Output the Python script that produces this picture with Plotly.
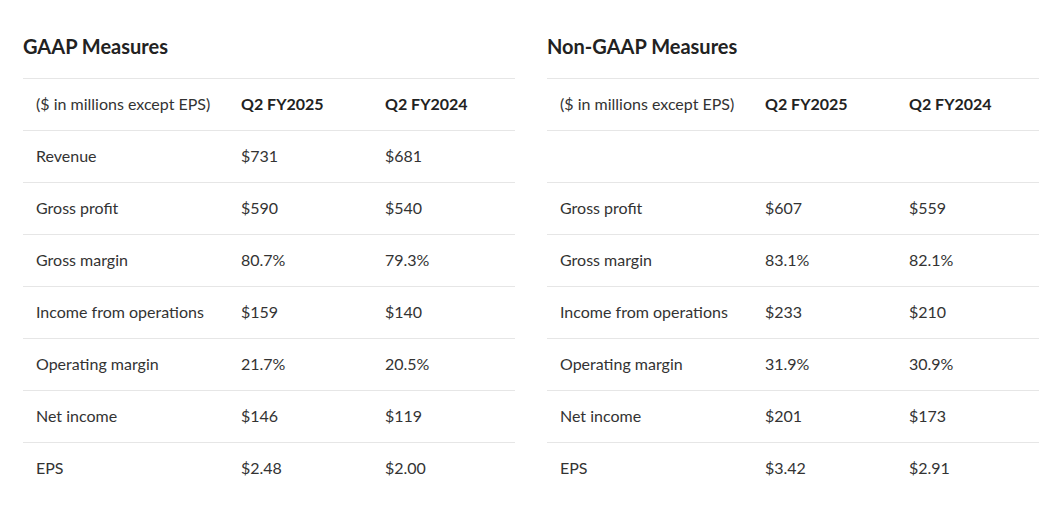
import plotly.graph_objects as go

# ---- data ----
metrics = ["Revenue", "Gross profit", "Gross margin", "Income from operations",
           "Operating margin", "Net income", "EPS"]
metric_kind = ["usd", "usd", "pct", "usd", "pct", "usd", "eps"]
columns = ["($ in millions except EPS)", "Q2 FY2025", "Q2 FY2024"]

gaap_fy2025 = [731, 590, 80.7, 159, 21.7, 146, 2.48]
gaap_fy2024 = [681, 540, 79.3, 140, 20.5, 119, 2.00]

nongaap_fy2025 = [None, 607, 83.1, 233, 31.9, 201, 3.42]
nongaap_fy2024 = [None, 559, 82.1, 210, 30.9, 173, 2.91]

titles = ["GAAP Measures", "Non-GAAP Measures"]


def fmt(v, kind):
    if v is None:
        return ""
    if kind == "pct":
        return f"{v:.1f}%"
    if kind == "eps":
        return f"${v:.2f}"
    return f"${v:,.0f}"


W, H = 1061, 520
OFF = 8  # page body margin in the viewer
FONT = "Lato"
TEXT = "#333333"
LINE = "#e6e6e6"
BODY = 16
TXT_SHIFT = 2.5  # px: text sits a touch below row centre

table_w = 492
col_x = [13, 218, 362]  # offsets of columns within a panel
panels = [
    (gaap_fy2025, gaap_fy2024, 23, "x", "y", "y3"),
    (nongaap_fy2025, nongaap_fy2024, 547, "x2", "y2", "y4"),
]


def px_x(p):
    return (p - OFF) / W


def px_y(p):
    return 1 - (p - OFF) / H


n = len(metrics) + 1
rows = list(range(1, n))

fig = go.Figure()
for i, (v25, v24, left, xa, ya, yt) in enumerate(panels):
    # invisible trace so the grid (row separators) axis is drawn
    fig.add_trace(go.Scatter(x=[0], y=[0], mode="none", xaxis=xa, yaxis=ya,
                             hoverinfo="skip", showlegend=False))
    cells = [
        ([col_x[0]], [0], [columns[0]], TEXT),
        (col_x[1:], [0, 0], [f"<b>{c}</b>" for c in columns[1:]], "#222222"),
        ([col_x[0]] * len(rows), rows,
         [m if a is not None else "" for m, a in zip(metrics, v25)], TEXT),
        ([col_x[1]] * len(rows), rows,
         [fmt(v, k) for v, k in zip(v25, metric_kind)], TEXT),
        ([col_x[2]] * len(rows), rows,
         [fmt(v, k) for v, k in zip(v24, metric_kind)], TEXT),
    ]
    for xs, ys, txt, col in cells:
        fig.add_trace(go.Scatter(
            x=xs, y=ys, text=txt, mode="text", textposition="middle right",
            xaxis=xa, yaxis=yt,
            textfont=dict(family=FONT, size=BODY, color=col),
            hoverinfo="skip", showlegend=False))
    fig.add_annotation(
        text=f"<b>{titles[i]}</b>", x=px_x(left - 2), y=px_y(46),
        xref="paper", yref="paper", xanchor="left", yanchor="middle",
        showarrow=False, font=dict(family=FONT, size=20, color="#222222"))

pad = 0.1
grid_ax = dict(range=[n - 0.5, -0.5 - pad], tickmode="array",
               tickvals=[k - 0.5 for k in range(n)], showticklabels=False,
               showgrid=True, gridcolor=LINE, gridwidth=1, zeroline=False,
               showline=False, ticks="",
               domain=[px_y(494), px_y(78 - pad * 52)], fixedrange=True)
text_ax = dict(range=[n - 0.5, -0.5 - pad], showticklabels=False,
               showgrid=False, zeroline=False, showline=False, ticks="",
               domain=[px_y(494 + TXT_SHIFT), px_y(78 - pad * 52 + TXT_SHIFT)],
               fixedrange=True)
xax = dict(range=[0, table_w], showgrid=False, zeroline=False, showline=False,
           showticklabels=False, ticks="", fixedrange=True)

fig.update_layout(
    width=W, height=H,
    margin=dict(l=0, r=0, t=0, b=0),
    paper_bgcolor="white", plot_bgcolor="rgba(0,0,0,0)",
    xaxis=dict(xax, domain=[px_x(23), px_x(515)], anchor="y"),
    xaxis2=dict(xax, domain=[px_x(547), px_x(1039)], anchor="y2"),
    yaxis=dict(grid_ax, anchor="x"),
    yaxis2=dict(grid_ax, anchor="x2"),
    yaxis3=dict(text_ax, anchor="x"),
    yaxis4=dict(text_ax, anchor="x2"),
)

fig.write_html("out.html")
